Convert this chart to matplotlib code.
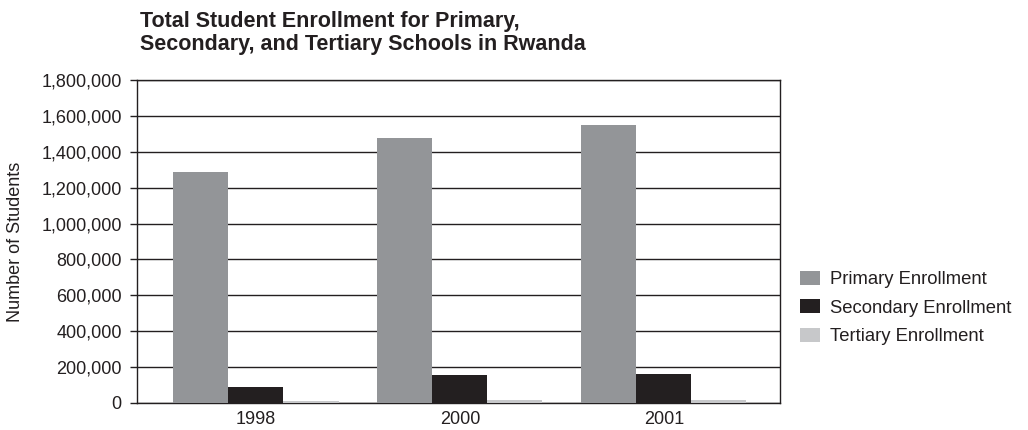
import numpy as np
from matplotlib import pyplot as plt
from matplotlib.ticker import FuncFormatter

plt.rcParams['font.family'] = ['Liberation Sans', 'DejaVu Sans']

years = ['1998', '2000', '2001']
primary = [1290000, 1476000, 1548000]
secondary = [90000, 157000, 162000]
tertiary = [11000, 17000, 17000]

series_names = ['Primary Enrollment', 'Secondary Enrollment', 'Tertiary Enrollment']
colors = ['#939598', '#231f20', '#c7c8ca']

fig = plt.figure(figsize=(10.28, 4.30), dpi=100)
ax = fig.add_axes([0.1333, 0.0628, 0.6255, 0.7512])

x = np.arange(len(years))
w = 0.27
for k, (vals, name, c) in enumerate(zip([primary, secondary, tertiary], series_names, colors)):
    ax.bar(x + (k - 1) * w, vals, width=w, color=c, label=name, zorder=3, linewidth=0)

ax.set_xlim(-0.583, 2.57)
ax.set_ylim(0, 1800000)
ax.set_yticks(np.arange(0, 1800001, 200000))
ax.yaxis.set_major_formatter(FuncFormatter(lambda v, p: '{:,.0f}'.format(v)))
ax.set_xticks(x)
ax.set_xticklabels(years)
ax.tick_params(axis='x', length=0, pad=6, labelsize=13, colors='#231f20')
ax.tick_params(axis='y', length=5, width=1, pad=6, labelsize=13, colors='#231f20', direction='out')
ax.yaxis.grid(True, color='#231f20', linewidth=1.0, zorder=1)
for s in ax.spines.values():
    s.set_color('#231f20')
    s.set_linewidth(1.0)

ax.set_ylabel('Number of Students', fontsize=13, color='#231f20')
ax.yaxis.set_label_coords(-0.176, 0.5)

fig.text(0.1362, 0.975, 'Total Student Enrollment for Primary,\nSecondary, and Tertiary Schools in Rwanda',
         fontsize=15.5, fontweight='bold', color='#231f20', ha='left', va='top', linespacing=1.15)

fig.legend(loc='center left', bbox_to_anchor=(0.778, 0.284), bbox_transform=fig.transFigure,
           frameon=False, fontsize=13.3, handlelength=1.1, handleheight=0.8, handletextpad=0.55,
           labelspacing=0.6, borderpad=0, borderaxespad=0, labelcolor='#231f20')

fig.savefig('out.png', dpi=100)
